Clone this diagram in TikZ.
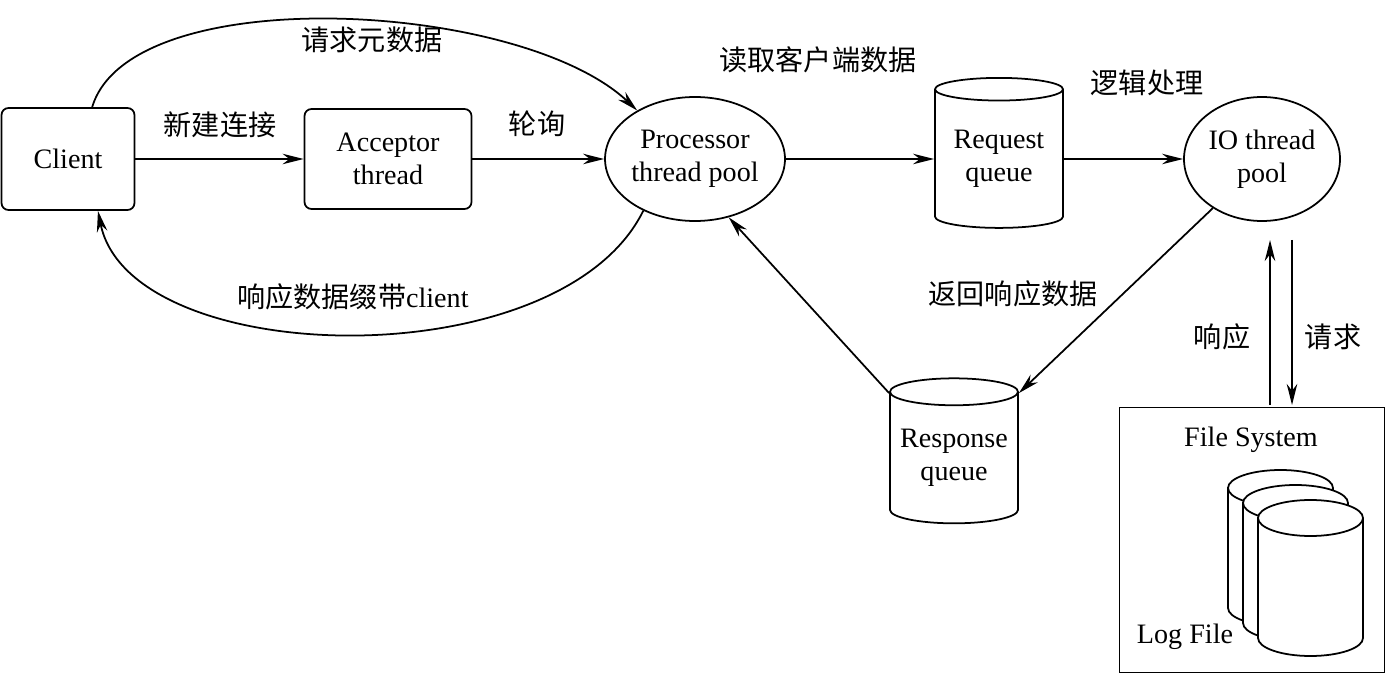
\documentclass[tikz,border=0pt]{standalone}
\usepackage{fontspec}
\setmainfont{Liberation Serif}
\newfontfamily\cjk{Noto Sans CJK SC}
\usetikzlibrary{shapes.geometric,arrows.meta}
\begin{document}
\begin{tikzpicture}[x=0.02cm,y=-0.02cm,line width=1pt,
  every node/.style={font=\fontsize{16}{19}\selectfont},
  box/.style={draw,rounded corners=4pt,align=center,inner sep=0pt},
  ell/.style={draw,ellipse,align=center,inner sep=0pt},
  cyl/.style={draw,cylinder,shape border rotate=90,aspect=0.25,align=center,inner sep=0pt,fill=white},
  lab/.style={font=\cjk\fontsize{16}{19}\selectfont},
  arr/.style={-{Stealth[length=12pt,width=6pt]}}]
\useasboundingbox (0,0) rectangle (1389,675);
\node[box,minimum width=133*0.02cm,minimum height=102*0.02cm] (client) at (68,159) {Client};
\node[box,minimum width=167*0.02cm,minimum height=100*0.02cm] (acc) at (388,159) {Acceptor\\thread};
\node[ell,minimum width=170*0.02cm,minimum height=124*0.02cm] (proc) at (695,159) {Processor\\thread pool};
\node[cyl,minimum width=128*0.02cm,minimum height=150*0.02cm] (req) at (999,159) {Request\\queue};
\node[ell,minimum width=156*0.02cm,minimum height=124*0.02cm] (io) at (1262,159) {IO thread\\pool};
\node[cyl,minimum width=128*0.02cm,minimum height=145*0.02cm] (resp) at (954,458) {Response\\queue};
\node[draw,minimum width=265*0.02cm,minimum height=265*0.02cm,inner sep=0pt] (fs) at (1252,540) {};
\node (fst) at (1251,440) {File System};
\foreach \x/\y in {1228/488,1243/503,1258/518}{
  \filldraw[fill=white] (\x,\y) -- (\x,\y+120) arc[start angle=180,end angle=0,x radius=52.5,y radius=18]
    -- (\x+105,\y) arc[start angle=0,end angle=-180,x radius=52.5,y radius=18] -- cycle;
  \draw (\x,\y) arc[start angle=180,end angle=0,x radius=52.5,y radius=18];
}
\node[fill=white,inner sep=1pt] (lf) at (1185,637) {Log File};

\draw[arr] (client) -- (acc);
\draw[arr] (acc) -- (proc);
\draw[arr] (proc) -- (req);
\draw[arr] (req) -- (io);
\draw[arr] (io.225) -- (resp.north east);
\draw[arr] (resp.north west) -- (proc.-60);
\coordinate (a1) at (1270,405); \coordinate (a2) at (1270,240);
\coordinate (b1) at (1292,240); \coordinate (b2) at (1292,405);
\draw[arr] (a1) -- (a2);
\draw[arr] (b1) -- (b2);
\draw[arr] (client.65) .. controls (130,-20) and (520,0) .. (proc.140);
\draw[arr] (proc.225) .. controls (560,380) and (130,370) .. (client.-60);

\node[lab] (t1) at (372,40) {请求元数据};
\node[lab] (t2) at (220,125) {新建连接};
\node[lab] (t3) at (537,124) {轮询};
\node[lab] (t4) at (818,60) {读取客户端数据};
\node[lab] (t5) at (1147,83) {逻辑处理};
\node[lab] (t6) at (353,297) {响应数据缀带\normalfont client};
\node[lab] (t7) at (1013,294) {返回响应数据};
\node[lab] (t8) at (1222,337) {响应};
\node[lab] (t9) at (1333,337) {请求};
\end{tikzpicture}
\end{document}
